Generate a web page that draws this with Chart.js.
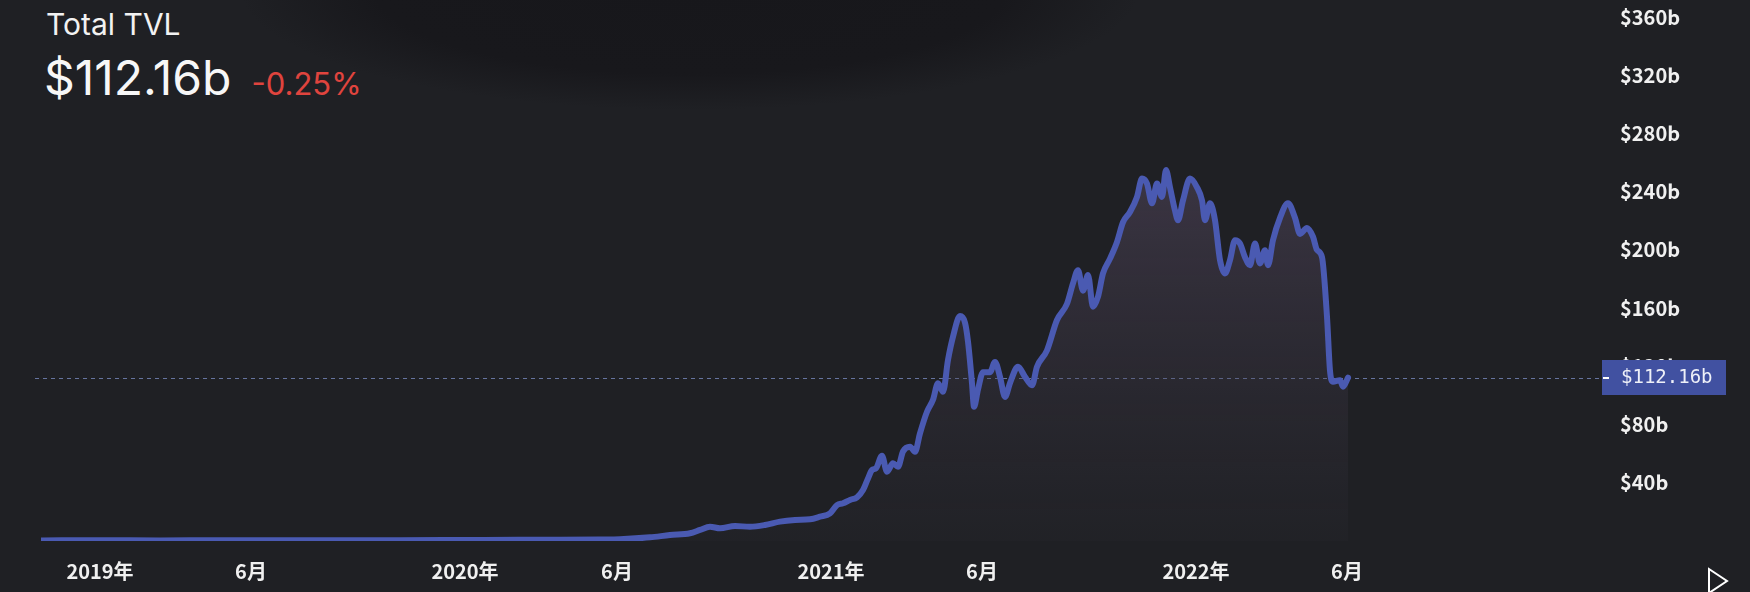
<!DOCTYPE html>
<html>
<head>
<meta charset="utf-8">
<script src="https://cdn.jsdelivr.net/npm/chart.js@4/dist/chart.umd.min.js"></script>
<style>
  html, body { margin: 0; padding: 0; }
  body {
    width: 1750px; height: 592px; overflow: hidden; position: relative;
    background-color: #1f2024;
    background-image: radial-gradient(ellipse 450px 120px at 690px -10px, #17171b 0%, #18181c 70%, rgba(31, 32, 36, 0) 100%);
    font-family: Inter, "Noto Sans", sans-serif;
  }
  #chart { position: absolute; left: 0; top: 0; }
  .title { position: absolute; left: 46px; top: 6px; color: #f2f2f2; font-size: 30px; }
  .value { position: absolute; left: 44px; top: 48px; color: #f7f7f7; font-size: 48px; }
  .change { color: #e0443e; font-size: 31px; margin-left: 20px; }
</style>
</head>
<body>
<div class="title">Total TVL</div>
<div class="value">$112.16b<span class="change">-0.25%</span></div>
<canvas id="chart" width="1750" height="592"></canvas>
<script>
// Tick labels on the time axis
const tickDates = ["2019-01-01", "2019-06-01", "2020-01-01", "2020-06-01", "2021-01-01", "2021-06-01", "2022-01-01", "2022-06-01"]
const tickLabels = ["2019年", "6月", "2020年", "6月", "2021年", "6月", "2022年", "6月"]

// Days since 2019-01-01 and total TVL in billions of USD
const days = [
  -58, 0, 60, 120, 180, 240, 300, 365, 420, 460, 500, 520, 550, 570, 590, 600, 610, 620, 635, 650,
  665, 680, 695, 710, 720, 730, 737, 743, 750, 757, 763, 768, 772, 776, 782, 787, 793, 798, 803, 810,
  815, 820, 827, 833, 838, 843, 848, 853, 860, 865, 868, 872, 874, 878, 883, 890, 895, 900, 905, 910,
  918, 925, 932, 937, 947, 957, 967, 973, 978, 983, 988, 993, 998, 1003, 1010, 1017, 1023, 1030, 1037, 1042,
  1047, 1052, 1057, 1062, 1066, 1070, 1075, 1078, 1083, 1090, 1097, 1102, 1105, 1110, 1115, 1120, 1125, 1130, 1135, 1140,
  1145, 1150, 1155, 1160, 1165, 1168, 1173, 1180, 1188, 1195, 1200, 1207, 1213, 1217, 1222, 1227, 1230, 1233, 1240, 1243,
  1248,
]
const tvl = [
  0.4, 0.5, 0.4, 0.6, 0.6, 0.6, 0.6, 0.7, 0.8, 0.8, 1.0, 1.2, 2.5, 4.1, 5.3, 7.6, 9.8, 8.7, 10.3, 9.8,
  11, 13.3, 14.4, 14.9, 16.7, 19, 24.7, 25.9, 28.2, 30, 35, 43, 48.8, 50, 58.5, 47.6, 53.4, 51, 61.5, 64.8,
  61.3, 74, 88.8, 97, 108.3, 102.5, 124.3, 140.3, 154.5, 150, 137, 108.3, 92.2, 104, 116, 116, 123, 112.8, 99, 108.5,
  119.7, 112.8, 107, 119.7, 131, 151.8, 163, 177, 186, 172, 182.7, 161, 167.8, 183.8, 194, 205.5, 219, 226, 236.4, 249,
  245.6, 232, 245.6, 236.4, 254.8, 243, 227, 220.4, 234, 249, 243, 234, 220.4, 232, 220.4, 193, 183.8, 193, 206.7, 204.4,
  195, 189.5, 204.4, 190.7, 199.8, 189.5, 206.7, 222, 232, 222, 211, 215, 209, 200, 195, 154, 117, 109.4, 110.5, 106,
  112.16,
]

const DAY = 86400000
const origin = Date.UTC(2019, 0, 1)
const toDay = (s) => {
  const [y, m, d] = s.split("-").map(Number)
  return Math.round((Date.UTC(y, m - 1, d) - origin) / DAY)
}
const tickDays = tickDates.map(toDay)
const lastValue = tvl[tvl.length - 1]

const axisFont = { family: "'Noto Sans CJK SC', 'Noto Sans', sans-serif", size: 20, weight: "600" }

// Dashed price line, price tag and the small arrow in the corner
const overlay = {
  id: "overlay",
  beforeDatasetsDraw(chart) {
    const { ctx, chartArea, scales } = chart
    const py = Math.round(scales.y.getPixelForValue(lastValue)) + 0.5
    ctx.save()
    ctx.setLineDash([4, 4])
    ctx.strokeStyle = "#66749f"
    ctx.lineWidth = 1
    ctx.beginPath()
    ctx.moveTo(chartArea.left - 6, py)
    ctx.lineTo(chartArea.right + 2, py)
    ctx.stroke()
    ctx.restore()
  },
  afterDraw(chart) {
    const { ctx, chartArea, scales } = chart
    const py = Math.round(scales.y.getPixelForValue(lastValue))
    const bx = chartArea.right + 2
    ctx.save()
    ctx.fillStyle = "#4151a1"
    ctx.fillRect(bx, py - 18, 124, 35)
    ctx.fillStyle = "#ffffff"
    ctx.fillRect(bx + 1, py - 1, 6, 2)
    ctx.fillStyle = "#eef0f8"
    ctx.font = "19px 'DejaVu Sans Mono', monospace"
    ctx.textBaseline = "middle"
    ctx.textAlign = "left"
    ctx.fillText(`$${lastValue}b`, bx + 19, py)
    // play arrow
    ctx.strokeStyle = "#ffffff"
    ctx.lineWidth = 2
    ctx.beginPath()
    ctx.moveTo(1709, 569)
    ctx.lineTo(1727, 581)
    ctx.lineTo(1709, 593)
    ctx.closePath()
    ctx.stroke()
    ctx.restore()
  },
}

new Chart(document.getElementById("chart"), {
  type: "line",
  data: {
    datasets: [
      {
        data: days.map((d, i) => ({ x: d, y: tvl[i] })),
        borderColor: "#4a5ab2",
        borderWidth: 6,
        borderJoinStyle: "round",
        borderCapStyle: "round",
        pointRadius: 0,
        cubicInterpolationMode: "monotone",
        fill: "origin",
        backgroundColor: (context) => {
          const { chart } = context
          const area = chart.chartArea
          if (!area) return "transparent"
          const g = chart.ctx.createLinearGradient(0, area.top + 150, 0, area.bottom)
          g.addColorStop(0, "rgba(95, 80, 108, 0.45)")
          g.addColorStop(1, "rgba(45, 44, 52, 0.2)")
          return g
        },
      },
    ],
  },
  options: {
    responsive: false,
    devicePixelRatio: 1,
    animation: false,
    layout: { padding: { left: 41, top: 17, right: 0, bottom: 0 } },
    plugins: { legend: { display: false }, tooltip: { enabled: false } },
    scales: {
      x: {
        type: "linear",
        min: -59,
        max: 1500,
        grid: { display: false, drawTicks: false },
        border: { display: false },
        afterBuildTicks: (scale) => {
          scale.ticks = tickDays.map((value) => ({ value }))
        },
        afterFit: (scale) => {
          scale.height = 51
        },
        ticks: {
          autoSkip: false,
          maxRotation: 0,
          padding: 18,
          color: "#f0f0f0",
          font: axisFont,
          callback: (value, index) => tickLabels[index],
        },
      },
      y: {
        position: "right",
        min: 0,
        max: 360,
        grid: { display: false, drawTicks: false },
        border: { display: false },
        afterFit: (scale) => {
          scale.width = 150
          scale.paddingTop = 0
          scale.paddingBottom = 0
        },
        ticks: {
          stepSize: 40,
          padding: 20,
          color: "#f0f0f0",
          font: axisFont,
          callback: (value) => (value === 0 ? null : `$${value}b`),
        },
      },
    },
  },
  plugins: [overlay],
})
</script>
</body>
</html>
